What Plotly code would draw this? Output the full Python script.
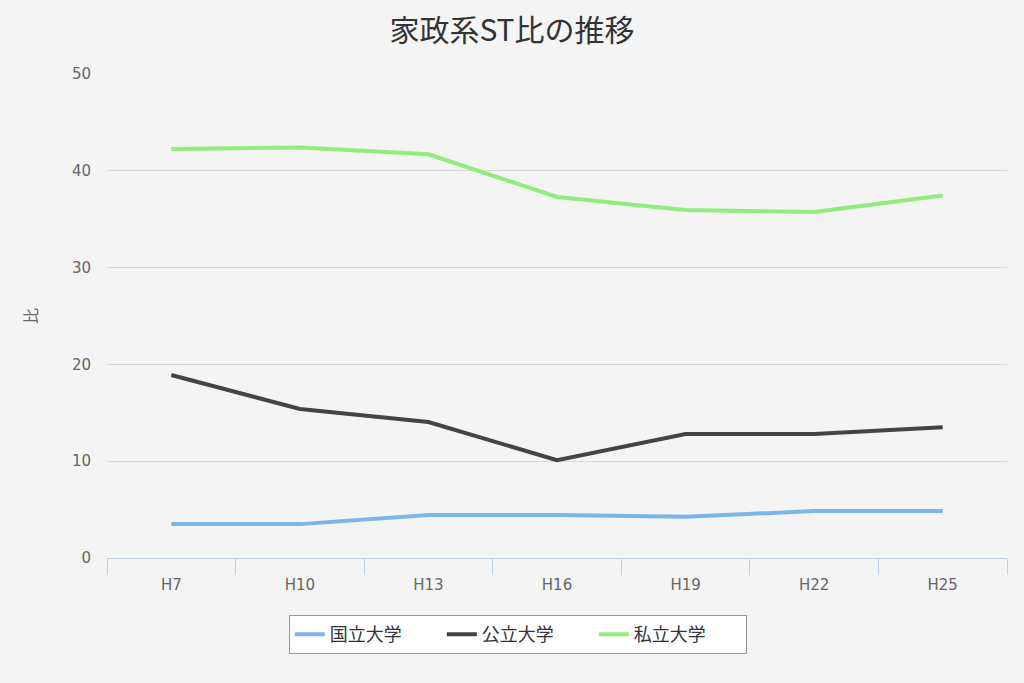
import plotly.graph_objects as go

categories = ["H7", "H10", "H13", "H16", "H19", "H22", "H25"]
national = [3.5, 3.5, 4.45, 4.45, 4.25, 4.85, 4.85]
public = [18.9, 15.4, 14.05, 10.1, 12.8, 12.8, 13.5]
private = [42.25, 42.4, 41.7, 37.3, 35.95, 35.75, 37.45]
series_names = ["国立大学", "公立大学", "私立大学"]
colors = ["#7cb5ec", "#434348", "#90ed7d"]

fig = go.Figure()
for name, vals, c in zip(series_names, [national, public, private], colors):
    fig.add_trace(go.Scatter(x=categories, y=vals, name=name, mode="lines",
                             line=dict(color=c, width=4)))

font_cjk = "Noto Sans CJK JP"
fig.update_layout(
    width=1024, height=683,
    paper_bgcolor="#f4f4f4", plot_bgcolor="#f4f4f4",
    margin=dict(l=107, r=17, t=74, b=125),
    title=dict(text="家政系ST比の推移", x=0.5, xanchor="center", y=0.955, yanchor="middle",
               font=dict(family=font_cjk, size=30, color="#333333")),
    showlegend=True,
    legend=dict(orientation="h", x=0.202, xanchor="left", y=-0.118, yanchor="top",
                bgcolor="#ffffff", bordercolor="#999999", borderwidth=1,
                font=dict(family=font_cjk, size=18, color="#333333"),
                entrywidth=107, itemwidth=30),
    xaxis=dict(showgrid=False, showline=True, linecolor="#c0d0e0", linewidth=1,
               range=[-0.5, 6.5],
               ticks="outside", tickson="boundaries", ticklen=16, tickcolor="#c0d0e0",
               ticklabelstandoff=13,
               tickfont=dict(family="DejaVu Sans", size=15, color="#666666"),
               zeroline=False, fixedrange=True),
    yaxis=dict(range=[0, 50], dtick=10, showgrid=True, gridcolor="#d8d8d8", gridwidth=1,
               zeroline=False, showline=False, ticks="",
               ticklabelstandoff=15,
               tickfont=dict(family="DejaVu Sans", size=15, color="#666666"),
               title=dict(text="比", font=dict(family=font_cjk, size=16, color="#666666"), standoff=30)),
)
fig.write_html("out.html")
